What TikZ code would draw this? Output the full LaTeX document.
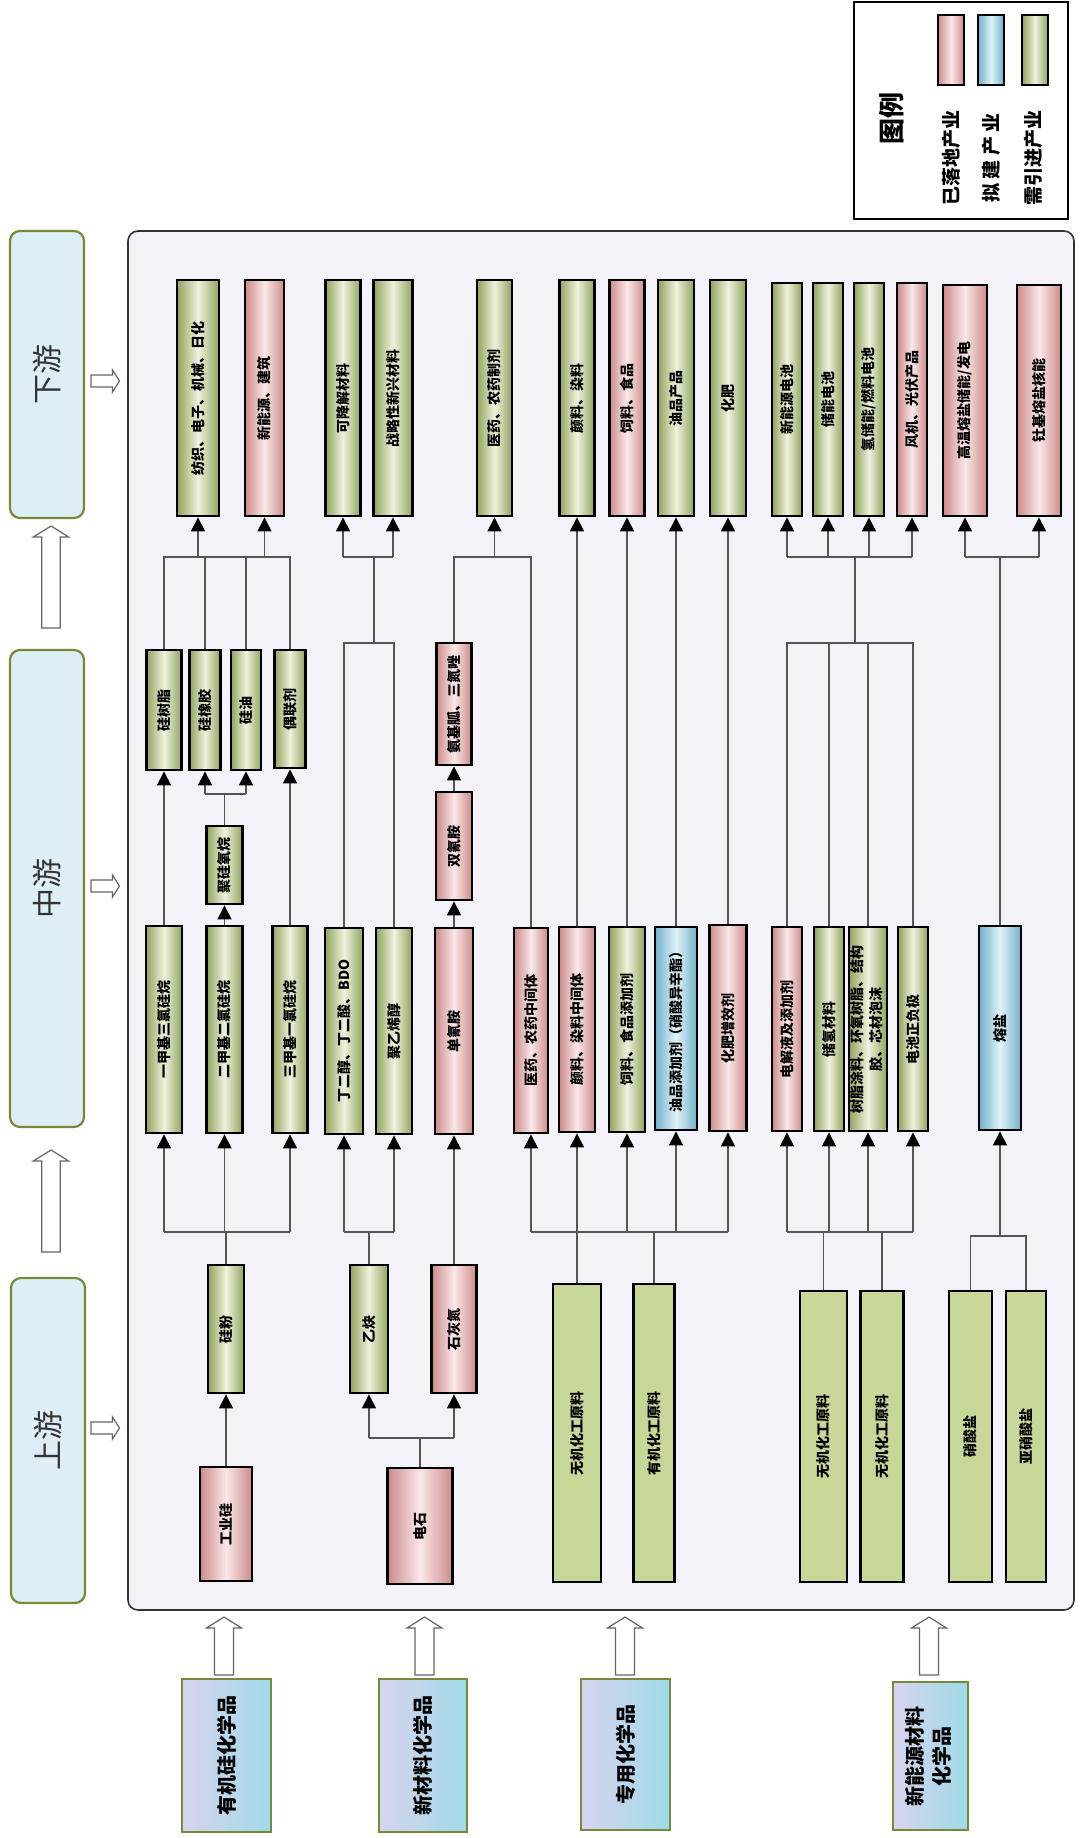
\documentclass[tikz,border=0pt]{standalone}
\usepackage{fontspec}
\setmainfont{Noto Sans CJK SC}
\usepackage{graphicx}
\usetikzlibrary{arrows.meta}
\definecolor{gE}{RGB}{146,163,92}
\definecolor{gC}{RGB}{238,242,222}
\definecolor{pE}{RGB}{204,138,138}
\definecolor{pC}{RGB}{250,232,232}
\definecolor{bE}{RGB}{112,176,202}
\definecolor{bC}{RGB}{224,242,248}
\definecolor{rawG}{RGB}{198,215,152}
\definecolor{catL}{RGB}{216,212,238}
\definecolor{catR}{RGB}{158,218,232}
\definecolor{stageF}{RGB}{221,238,246}
\definecolor{olive}{RGB}{118,138,58}
\definecolor{panel}{RGB}{242,242,248}
\definecolor{lineC}{RGB}{85,85,85}
\tikzset{
  box/.style={draw=black,line width=1.4pt,inner sep=0pt,font=\bfseries\fontsize{7}{9.5}\selectfont},
  gbox/.style={box,left color=gE,right color=gE,middle color=gC},
  pbox/.style={box,left color=pE,right color=pE,middle color=pC},
  bbox/.style={box,left color=bE,right color=bE,middle color=bC},
  rbox/.style={box,fill=rawG},
  catbox/.style={draw=olive,line width=1.2pt,left color=catL,right color=catR,inner sep=0pt,font=\bfseries\fontsize{10}{13.5}\selectfont},
  stagebox/.style={draw=olive,line width=1.1pt,fill=stageF,rounded corners=5pt,inner sep=0pt,font=\fontsize{15}{18}\selectfont,text=black!80},
  legtext/.style={inner sep=0pt,font=\bfseries\fontsize{9.5}{11}\selectfont},
  conn/.style={draw=lineC,line width=0.6pt},
  arr/.style={conn,-{Triangle[width=7pt,length=7pt,color=black]}},
  hollow/.style={draw=black!60,fill=white,line width=0.6pt}
}
% name, cx, y1, y2, width, style, text
\newcommand\mybox[7]{\node[#6,minimum width=#5*0.5pt,minimum height={(#4-#3)*0.5pt}] (#1) at (#2,{(#3+#4)/2}) {\rotatebox{90}{#7}};}
% cx, ytip, ybase, half shaft, half head, head length
\newcommand\harrowup[6]{\draw[hollow] ({#1-#4},#3) -- ({#1-#4},{#2+#6}) -- ({#1-#5},{#2+#6}) -- (#1,#2) -- ({#1+#5},{#2+#6}) -- ({#1+#4},{#2+#6}) -- ({#1+#4},#3) -- cycle;}
% cy, xbase, xtip, half shaft, half head, head length
\newcommand\harrowright[6]{\draw[hollow] (#2,{#1-#4}) -- ({#3-#6},{#1-#4}) -- ({#3-#6},{#1-#5}) -- (#3,#1) -- ({#3-#6},{#1+#5}) -- ({#3-#6},{#1+#4}) -- (#2,{#1+#4}) -- cycle;}
\begin{document}
\begin{tikzpicture}[x=0.5pt,y=-0.5pt]
\useasboundingbox (0,0) rectangle (1085,1838);
\fill[white] (0,0) rectangle (1085,1838);
% panel
\draw[draw=black!80,line width=0.8pt,fill=panel,rounded corners=5pt] (128,231) rectangle (1074,1610);
% legend
\draw[line width=0.8pt] (854,2) rectangle (1068,219);
\node[inner sep=0pt,font=\bfseries\fontsize{13}{15}\selectfont] (legT) at (892,118) {\rotatebox{90}{图例}};
\mybox{lgP}{951}{15}{85}{26}{pbox}{}
\mybox{lgB}{991}{15}{85}{26}{bbox}{}
\mybox{lgG}{1035}{15}{85}{26}{gbox}{}
\node[legtext] (lgPt) at (951,158) {\rotatebox{90}{已落地产业}};
\node[legtext] (lgBt) at (991,158) {\rotatebox{90}{拟 建 产 业}};
\node[legtext] (lgGt) at (1033,158) {\rotatebox{90}{需引进产业}};
% stage boxes
\mybox{down}{47}{231}{518}{74}{stagebox}{下游}
\mybox{mid}{47}{650}{1127}{74}{stagebox}{中游}
\mybox{up}{48}{1278}{1603}{74}{stagebox}{上游}
\harrowright{381}{91}{119.5}{6}{11}{7}
\harrowright{886}{91}{119.5}{6}{11}{7}
\harrowright{1428}{91}{119.5}{6}{11}{7}
\harrowup{51}{526}{628}{9.3}{17.7}{11}
\harrowup{51}{1150}{1252}{9.3}{17.7}{11}
% category boxes
\mybox{cat1}{226.5}{1679}{1832}{89}{catbox}{有机硅化学品}
\mybox{cat2}{423}{1679}{1832}{88}{catbox}{新材料化学品}
\mybox{cat3}{625.5}{1679}{1830}{89}{catbox}{专用化学品}
\mybox{cat4}{930.5}{1682}{1830}{75}{catbox}{\begin{tabular}{@{}c@{}}新能源材料\\化学品\end{tabular}}
\harrowup{224}{1617}{1675}{9.5}{17.5}{11}
\harrowup{424.5}{1617}{1675}{9.5}{17.5}{11}
\harrowup{625}{1617}{1675}{9.5}{17.5}{11}
\harrowup{929}{1617}{1675}{9.5}{17.5}{11}
% top row (downstream)
\mybox{t1}{198}{280}{516}{42}{gbox}{纺织、电子、机械、日化}
\mybox{t2}{264.5}{280}{516}{39}{pbox}{新能源、建筑}
\mybox{t3}{343}{280}{516}{35}{gbox}{可降解材料}
\mybox{t4}{393}{280}{516}{39}{gbox}{战略性新兴材料}
\mybox{t5}{494.5}{280}{516}{35}{gbox}{医药、农药制剂}
\mybox{t6}{577}{280}{516}{35}{gbox}{颜料、染料}
\mybox{t7}{627}{280}{516}{35}{pbox}{饲料、食品}
\mybox{t8}{676}{280}{516}{36}{gbox}{油品产品}
\mybox{t9}{728}{280}{516}{36}{gbox}{化肥}
\mybox{t10}{787}{283}{516}{30}{gbox}{新能源电池}
\mybox{t11}{828}{283}{516}{30}{gbox}{储能电池}
\mybox{t12}{869}{283}{516}{30}{gbox}{氢储能/燃料电池}
\mybox{t13}{912}{283}{516}{30}{pbox}{风机、光伏产品}
\mybox{t14}{965}{285}{516}{44}{pbox}{高温熔盐储能/发电}
\mybox{t15}{1039}{285}{516}{44}{pbox}{钍基熔盐核能}
% silicone products
\mybox{s1}{164}{650}{770}{35}{gbox}{硅树脂}
\mybox{s2}{205}{650}{770}{31}{gbox}{硅橡胶}
\mybox{s3}{246}{650}{770}{30}{gbox}{硅油}
\mybox{s4}{290}{650}{768}{31}{gbox}{偶联剂}
\mybox{psx}{224.5}{826}{904}{36}{gbox}{聚硅氧烷}
\mybox{amg}{454}{643}{765}{35}{pbox}{氨基胍、三氮唑}
\mybox{dcd}{454}{792}{900}{36}{pbox}{双氰胺}
% middle row
\mybox{ma}{164}{926}{1133}{36}{gbox}{一甲基三氯硅烷}
\mybox{mb}{224.5}{926}{1133}{36}{gbox}{二甲基二氯硅烷}
\mybox{mc}{290}{926}{1133}{35}{gbox}{三甲基一氯硅烷}
\mybox{md}{344}{928}{1134}{38}{gbox}{丁二醇、丁二酸、BDO}
\mybox{me}{394}{928}{1134}{36}{gbox}{聚乙烯醇}
\mybox{mf}{454}{928}{1134}{38}{pbox}{单氰胺}
\mybox{mg}{531}{928}{1133}{34}{pbox}{医药、农药中间体}
\mybox{mh}{577}{927}{1132}{36}{pbox}{颜料、染料中间体}
\mybox{mi}{627}{927}{1132}{36}{gbox}{饲料、食品添加剂}
\mybox{mj}{676}{927}{1130}{42}{bbox}{油品添加剂（硝酸异辛酯）}
\mybox{mk}{728}{925}{1131}{37}{pbox}{化肥增效剂}
\mybox{ml}{787}{927}{1131}{30}{pbox}{电解液及添加剂}
\mybox{mm}{829}{927}{1131}{30}{gbox}{储氢材料}
\mybox{mn}{868}{927}{1131}{38}{gbox}{\begin{tabular}{@{}c@{}}树脂涂料、环氧树脂、结构\\胶、芯材泡沫\end{tabular}}
\mybox{mo}{913}{927}{1131}{30}{gbox}{电池正负极}
\mybox{mp}{1000}{926}{1130}{42}{bbox}{熔盐}
% upstream
\mybox{sf}{226}{1265}{1393}{36}{gbox}{硅粉}
\mybox{gys}{226}{1467}{1581}{52}{pbox}{工业硅}
\mybox{yq}{369}{1265}{1393}{38}{gbox}{乙炔}
\mybox{shd}{454}{1265}{1393}{45}{pbox}{石灰氮}
\mybox{ds}{420}{1468}{1584}{65}{pbox}{电石}
\mybox{wj1}{577}{1284}{1582}{48}{rbox}{无机化工原料}
\mybox{yj}{654}{1284}{1582}{41}{rbox}{有机化工原料}
\mybox{wj2}{823.5}{1291}{1582}{47}{rbox}{无机化工原料}
\mybox{wj3}{882}{1291}{1582}{43}{rbox}{无机化工原料}
\mybox{xs}{970.5}{1291}{1582}{43}{rbox}{硝酸盐}
\mybox{yxs}{1026}{1291}{1582}{40}{rbox}{亚硝酸盐}
% bus levels
\coordinate (yA) at (0,557);
\coordinate (yB) at (0,794);
\coordinate (yC) at (0,643);
\coordinate (yD) at (0,1232);
\coordinate (yE) at (0,1438);
\coordinate (yF) at (0,1236);
% silicone: mid products -> downstream
\draw[conn] (s1.north) -- (s1.north |- yA) -- (s4.north |- yA) -- (s4.north);
\draw[conn] (s2.north) -- (s2.north |- yA);
\draw[conn] (s3.north) -- (s3.north |- yA);
\draw[arr] (t1.south |- yA) -- (t1.south);
\draw[arr] (t2.south |- yA) -- (t2.south);
\draw[conn] (psx.north) -- (psx.north |- yB);
\draw[conn] (s2.south |- yB) -- (s3.south |- yB);
\draw[arr] (s2.south |- yB) -- (s2.south);
\draw[arr] (s3.south |- yB) -- (s3.south);
\draw[arr] (ma.north) -- (s1.south);
\draw[arr] (mb.north) -- (psx.south);
\draw[arr] (mc.north) -- (s4.south);
% BDO / PVA
\coordinate (stem1) at (374,643);
\draw[conn] (md.north) -- (md.north |- yC) -- (me.north |- yC) -- (me.north);
\draw[conn] (stem1) -- (stem1 |- yA);
\draw[conn] (t3.south |- yA) -- (t4.south |- yA);
\draw[arr] (t3.south |- yA) -- (t3.south);
\draw[arr] (t4.south |- yA) -- (t4.south);
% cyanamide
\draw[arr] (mf.north) -- (dcd.south);
\draw[arr] (dcd.north) -- (amg.south);
\draw[conn] (amg.north) -- (amg.north |- yA) -- (mg.north |- yA) -- (mg.north);
\draw[arr] (t5.south |- yA) -- (t5.south);
% special chemicals
\draw[arr] (mh.north) -- (t6.south);
\draw[arr] (mi.north) -- (t7.south);
\draw[arr] (mj.north) -- (t8.south);
\draw[arr] (mk.north) -- (t9.south);
% energy
\coordinate (stem2) at (855,643);
\draw[conn] (ml.north) -- (ml.north |- yC) -- (mo.north |- yC) -- (mo.north);
\draw[conn] (mm.north) -- (mm.north |- yC);
\draw[conn] (mn.north) -- (mn.north |- yC);
\draw[conn] (stem2) -- (stem2 |- yA);
\draw[conn] (t10.south |- yA) -- (t13.south |- yA);
\draw[arr] (t10.south |- yA) -- (t10.south);
\draw[arr] (t11.south |- yA) -- (t11.south);
\draw[arr] (t12.south |- yA) -- (t12.south);
\draw[arr] (t13.south |- yA) -- (t13.south);
% molten salt
\draw[conn] (mp.north) -- (mp.north |- yA);
\draw[conn] (t14.south |- yA) -- (t15.south |- yA);
\draw[arr] (t14.south |- yA) -- (t14.south);
\draw[arr] (t15.south |- yA) -- (t15.south);
% upstream -> middle
\draw[conn] (sf.north) -- (sf.north |- yD);
\draw[conn] (ma.south |- yD) -- (mc.south |- yD);
\draw[arr] (ma.south |- yD) -- (ma.south);
\draw[arr] (mb.south |- yD) -- (mb.south);
\draw[arr] (mc.south |- yD) -- (mc.south);
\draw[arr] (gys.north) -- (sf.south);
\draw[conn] (yq.north) -- (yq.north |- yD);
\draw[conn] (md.south |- yD) -- (me.south |- yD);
\draw[arr] (md.south |- yD) -- (md.south);
\draw[arr] (me.south |- yD) -- (me.south);
\draw[arr] (shd.north) -- (mf.south);
\draw[conn] (ds.north) -- (ds.north |- yE);
\draw[conn] (yq.south |- yE) -- (shd.south |- yE);
\draw[arr] (yq.south |- yE) -- (yq.south);
\draw[arr] (shd.south |- yE) -- (shd.south);
\draw[conn] (mg.south |- yD) -- (mk.south |- yD);
\draw[arr] (mg.south |- yD) -- (mg.south);
\draw[arr] (mh.south |- yD) -- (mh.south);
\draw[arr] (mi.south |- yD) -- (mi.south);
\draw[arr] (mj.south |- yD) -- (mj.south);
\draw[arr] (mk.south |- yD) -- (mk.south);
\draw[conn] (wj1.north) -- (wj1.north |- yD);
\draw[conn] (yj.north) -- (yj.north |- yD);
\draw[conn] (ml.south |- yD) -- (mo.south |- yD);
\draw[arr] (ml.south |- yD) -- (ml.south);
\draw[arr] (mm.south |- yD) -- (mm.south);
\draw[arr] (mn.south |- yD) -- (mn.south);
\draw[arr] (mo.south |- yD) -- (mo.south);
\draw[conn] (wj2.north) -- (wj2.north |- yD);
\draw[conn] (wj3.north) -- (wj3.north |- yD);
\draw[conn] (xs.north) -- (xs.north |- yF) -- (yxs.north |- yF) -- (yxs.north);
\draw[arr] (mp.south |- yF) -- (mp.south);
\end{tikzpicture}
\end{document}
